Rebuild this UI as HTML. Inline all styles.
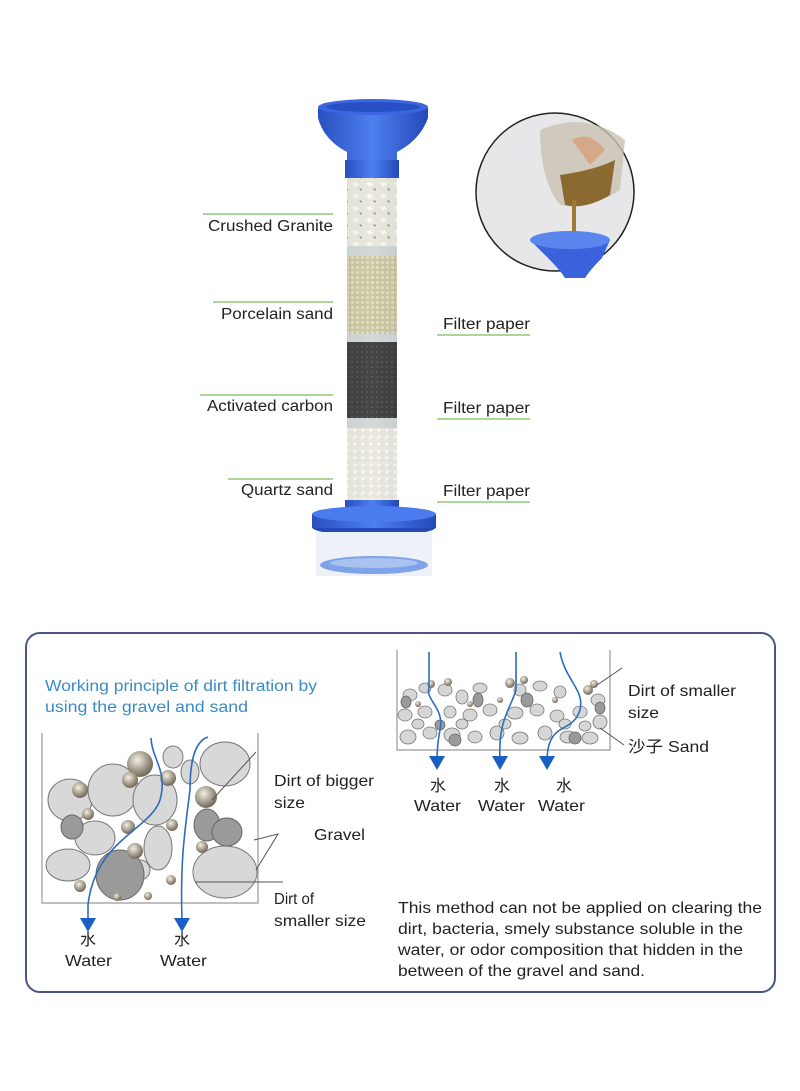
<!DOCTYPE html>
<html><head><meta charset="utf-8"><style>
html,body{margin:0;padding:0;background:#fff;}
svg{display:block;}
text{font-family:"Liberation Sans","Noto Sans CJK SC",sans-serif;}
</style></head><body>
<svg width="800" height="1091" viewBox="0 0 800 1091" xmlns="http://www.w3.org/2000/svg">
<defs>
<linearGradient id="tube" x1="0" x2="1"><stop offset="0" stop-color="#d8dcdc"/><stop offset=".5" stop-color="#f4f4f0"/><stop offset="1" stop-color="#cfd3d3"/></linearGradient>
<linearGradient id="blue" x1="0" x2="1"><stop offset="0" stop-color="#2a4fc0"/><stop offset=".5" stop-color="#4d7ff0"/><stop offset="1" stop-color="#2448b8"/></linearGradient>
<pattern id="gran" width="14" height="12" patternUnits="userSpaceOnUse"><rect width="14" height="12" fill="#e6e4d6"/><path d="M2 3l5-1 2 3-4 2z" fill="#fbfaf4"/><path d="M9 8l3 1-1 2z" fill="#6a6a58"/></pattern>
<pattern id="porc" width="5" height="5" patternUnits="userSpaceOnUse"><rect width="5" height="5" fill="#bfb88a"/><circle cx="2.5" cy="2.5" r="1.6" fill="#dcd6b0"/></pattern>
<pattern id="carb" width="5" height="5" patternUnits="userSpaceOnUse"><rect width="5" height="5" fill="#0c0c0c"/><circle cx="2" cy="2" r="1" fill="#2a2a2a"/></pattern>
<pattern id="quar" width="8" height="7" patternUnits="userSpaceOnUse"><rect width="8" height="7" fill="#e8e6dc"/><circle cx="3" cy="3" r="1.5" fill="#fff"/><circle cx="6" cy="5" r=".8" fill="#d9cfa8"/></pattern>
<radialGradient id="dirt" cx=".4" cy=".35" r=".6"><stop offset="0" stop-color="#f4f0e4"/><stop offset="1" stop-color="#7a7060"/></radialGradient>
</defs>

<path d="M318 108 Q372 96 428 108 L428 118 Q420 140 397 152 L397 168 L347 168 L347 152 Q324 140 318 118Z" fill="url(#blue)"/>
<ellipse cx="373" cy="107" rx="55" ry="8" fill="#3c66e0"/>
<ellipse cx="373" cy="107" rx="47" ry="5" fill="#2850c6"/>
<rect x="345" y="160" width="54" height="18" fill="url(#blue)"/>
<rect x="347" y="178" width="50" height="72" fill="url(#gran)"/>
<rect x="347" y="246" width="50" height="10" fill="#c8cfd0"/>
<rect x="347" y="256" width="50" height="80" fill="url(#porc)"/>
<rect x="347" y="334" width="50" height="8" fill="#c8cfd0"/>
<rect x="347" y="342" width="50" height="78" fill="url(#carb)"/>
<rect x="347" y="418" width="50" height="10" fill="#c8cfd0"/>
<rect x="347" y="428" width="50" height="82" fill="url(#quar)"/>
<rect x="347" y="178" width="50" height="332" fill="url(#tube)" opacity=".25"/>
<rect x="345" y="500" width="54" height="12" fill="url(#blue)"/>
<ellipse cx="374" cy="527" rx="62" ry="9" fill="#2448b8"/>
<rect x="312" y="514" width="124" height="14" fill="url(#blue)"/>
<ellipse cx="374" cy="514" rx="62" ry="8" fill="#4a7cf0"/>
<rect x="316" y="532" width="116" height="44" fill="#eef2f8"/>
<ellipse cx="374" cy="565" rx="54" ry="9" fill="#7fa3e8"/>
<ellipse cx="374" cy="563" rx="44" ry="5" fill="#a9c2f0"/>

<circle cx="555" cy="192" r="79" fill="#e7e7e9" stroke="#222" stroke-width="1.5"/>
<path d="M540 130 Q585 110 625 140 L620 190 Q590 210 560 205 Q540 180 540 130Z" fill="#c9c2b3" opacity=".8"/>
<path d="M560 175 Q595 170 615 160 L610 195 Q585 210 565 205Z" fill="#8a6a30"/>
<path d="M572 140 Q590 130 605 150 L590 165Z" fill="#d6a88a"/>
<rect x="572" y="200" width="4" height="45" fill="#a07a30"/>
<path d="M530 240 Q575 228 610 240 L602 258 Q590 270 585 278 L565 278 Q560 270 548 258Z" fill="#3a62dc"/>
<ellipse cx="570" cy="240" rx="40" ry="9" fill="#5b86ee"/>

<g fill="#222" font-size="15.5" lengthAdjust="spacingAndGlyphs">
<text x="208" y="231" textLength="125" lengthAdjust="spacingAndGlyphs">Crushed Granite</text>
<text x="221" y="319" textLength="112" lengthAdjust="spacingAndGlyphs">Porcelain sand</text>
<text x="207" y="411" textLength="126" lengthAdjust="spacingAndGlyphs">Activated carbon</text>
<text x="241" y="495" textLength="92" lengthAdjust="spacingAndGlyphs">Quartz sand</text>
<text x="443" y="329" textLength="87" lengthAdjust="spacingAndGlyphs">Filter paper</text>
<text x="443" y="413" textLength="87" lengthAdjust="spacingAndGlyphs">Filter paper</text>
<text x="443" y="496" textLength="87" lengthAdjust="spacingAndGlyphs">Filter paper</text>
</g>
<g stroke="#7cbf5a" stroke-width="1.2">
<line x1="203" y1="214" x2="333" y2="214"/>
<line x1="213" y1="302" x2="333" y2="302"/>
<line x1="200" y1="395" x2="333" y2="395"/>
<line x1="228" y1="479" x2="333" y2="479"/>
<line x1="437" y1="335" x2="530" y2="335"/>
<line x1="437" y1="419" x2="530" y2="419"/>
<line x1="437" y1="502" x2="530" y2="502"/>
</g>

<rect x="26" y="633" width="749" height="359" rx="14" fill="none" stroke="#4a5585" stroke-width="2"/>
<text x="45" y="691" font-size="16" fill="#3a8ac8" textLength="272" lengthAdjust="spacingAndGlyphs">Working principle of dirt filtration by</text>
<text x="45" y="712" font-size="16" fill="#3a8ac8" textLength="203" lengthAdjust="spacingAndGlyphs">using the gravel and sand</text>

<path d="M42 733 V903 H258 V733" fill="none" stroke="#999" stroke-width="1.2"/>
<g stroke="#777" stroke-width="1" fill="#d8d8d8">
<ellipse cx="70" cy="800" rx="22" ry="21"/>
<ellipse cx="113" cy="790" rx="25" ry="26" />
<ellipse cx="155" cy="800" rx="22" ry="25"/>
<ellipse cx="173" cy="757" rx="10" ry="11"/>
<ellipse cx="190" cy="772" rx="9" ry="12"/>
<ellipse cx="225" cy="764" rx="25" ry="22"/>
<ellipse cx="95" cy="838" rx="20" ry="17"/>
<ellipse cx="158" cy="848" rx="14" ry="22"/>
<ellipse cx="68" cy="865" rx="22" ry="16"/>
<ellipse cx="225" cy="872" rx="32" ry="26"/>
<ellipse cx="140" cy="870" rx="10" ry="10"/>
</g>
<g stroke="#666" stroke-width="1" fill="#9a9a9a">
<ellipse cx="72" cy="827" rx="11" ry="12"/>
<ellipse cx="120" cy="875" rx="24" ry="25"/>
<ellipse cx="207" cy="825" rx="13" ry="16"/>
<ellipse cx="227" cy="832" rx="15" ry="14"/>
</g>
<g fill="url(#dirt)">
<circle cx="140" cy="764" r="13"/><circle cx="130" cy="780" r="8"/><circle cx="168" cy="778" r="8"/>
<circle cx="80" cy="790" r="8"/><circle cx="88" cy="814" r="6"/><circle cx="206" cy="797" r="11"/>
<circle cx="128" cy="827" r="7"/><circle cx="172" cy="825" r="6"/><circle cx="135" cy="851" r="8"/>
<circle cx="202" cy="847" r="6"/><circle cx="80" cy="886" r="6"/><circle cx="171" cy="880" r="5"/><circle cx="117" cy="897" r="4"/><circle cx="148" cy="896" r="4"/>
</g>
<g fill="none" stroke="#2e6cc0" stroke-width="1.6">
<path d="M151 738 C152 760 168 770 160 800 C150 830 95 840 88 905 V920"/>
<path d="M208 737 C192 742 190 770 190 790 C185 830 180 860 182 920"/>
</g>
<g fill="#1a5fc4"><path d="M80 918 h16 l-8 14z"/><path d="M174 918 h16 l-8 14z"/></g>
<g stroke="#555" stroke-width="1" fill="none">
<line x1="212" y1="800" x2="256" y2="752"/>
<path d="M254 840 L278 834 L256 870"/>
<line x1="195" y1="882" x2="283" y2="882"/>
</g>
<g fill="#222" font-size="16">
<text x="274" y="786" textLength="100" lengthAdjust="spacingAndGlyphs">Dirt of bigger</text><text x="274" y="808" textLength="31" lengthAdjust="spacingAndGlyphs">size</text>
<text x="314" y="840" textLength="51" lengthAdjust="spacingAndGlyphs">Gravel</text>
<text x="274" y="904" textLength="40" lengthAdjust="spacingAndGlyphs">Dirt of</text><text x="274" y="926" textLength="92" lengthAdjust="spacingAndGlyphs">smaller size</text>
<text x="80" y="945">水</text><text x="65" y="966" textLength="47" lengthAdjust="spacingAndGlyphs">Water</text>
<text x="174" y="945">水</text><text x="160" y="966" textLength="47" lengthAdjust="spacingAndGlyphs">Water</text>
</g>

<path d="M397 650 V750 H610 V650" fill="none" stroke="#999" stroke-width="1.2"/>
<g stroke="#777" stroke-width=".8" fill="#d6d6d6">
<ellipse cx="410" cy="695" rx="7" ry="6"/><ellipse cx="425" cy="688" rx="6" ry="5"/><ellipse cx="445" cy="690" rx="7" ry="6"/>
<ellipse cx="462" cy="697" rx="6" ry="7"/><ellipse cx="480" cy="688" rx="7" ry="5"/><ellipse cx="520" cy="690" rx="6" ry="6"/>
<ellipse cx="540" cy="686" rx="7" ry="5"/><ellipse cx="560" cy="692" rx="6" ry="6"/><ellipse cx="598" cy="700" rx="7" ry="6"/>
<ellipse cx="405" cy="715" rx="7" ry="6"/><ellipse cx="425" cy="712" rx="7" ry="6"/><ellipse cx="450" cy="712" rx="6" ry="6"/>
<ellipse cx="470" cy="715" rx="7" ry="6"/><ellipse cx="490" cy="710" rx="7" ry="6"/><ellipse cx="515" cy="713" rx="8" ry="6"/>
<ellipse cx="537" cy="710" rx="7" ry="6"/><ellipse cx="557" cy="716" rx="7" ry="6"/><ellipse cx="580" cy="712" rx="7" ry="6"/>
<ellipse cx="600" cy="722" rx="7" ry="7"/><ellipse cx="408" cy="737" rx="8" ry="7"/><ellipse cx="430" cy="733" rx="7" ry="6"/>
<ellipse cx="452" cy="735" rx="8" ry="7"/><ellipse cx="475" cy="737" rx="7" ry="6"/><ellipse cx="497" cy="733" rx="7" ry="7"/>
<ellipse cx="520" cy="738" rx="8" ry="6"/><ellipse cx="545" cy="733" rx="7" ry="7"/><ellipse cx="568" cy="737" rx="8" ry="6"/>
<ellipse cx="590" cy="738" rx="8" ry="6"/><ellipse cx="585" cy="726" rx="6" ry="5"/>
<ellipse cx="418" cy="724" rx="6" ry="5"/><ellipse cx="505" cy="724" rx="6" ry="5"/><ellipse cx="565" cy="724" rx="6" ry="5"/><ellipse cx="462" cy="724" rx="6" ry="5"/>
</g>
<g stroke="#666" stroke-width=".8" fill="#9a9a9a">
<ellipse cx="406" cy="702" rx="5" ry="6"/><ellipse cx="478" cy="700" rx="5" ry="7"/><ellipse cx="527" cy="700" rx="6" ry="7"/>
<ellipse cx="455" cy="740" rx="6" ry="6"/><ellipse cx="575" cy="738" rx="6" ry="6"/><ellipse cx="600" cy="708" rx="5" ry="6"/><ellipse cx="440" cy="725" rx="5" ry="5"/>
</g>
<g fill="url(#dirt)">
<circle cx="431" cy="684" r="4"/><circle cx="448" cy="682" r="4"/><circle cx="510" cy="683" r="5"/><circle cx="524" cy="680" r="4"/>
<circle cx="588" cy="690" r="5"/><circle cx="594" cy="684" r="4"/><circle cx="418" cy="704" r="3"/><circle cx="470" cy="704" r="3"/><circle cx="500" cy="700" r="3"/><circle cx="555" cy="700" r="3"/>
</g>
<g fill="none" stroke="#2e6cc0" stroke-width="1.6">
<path d="M429 652 V688 C425 700 445 708 440 730 C438 740 437 750 437 760"/>
<path d="M516 652 V690 C510 710 498 720 500 760"/>
<path d="M560 652 C565 680 585 690 580 710 C572 735 548 720 547 760"/>
</g>
<g fill="#1a5fc4"><path d="M429 756 h16 l-8 14z"/><path d="M492 756 h16 l-8 14z"/><path d="M539 756 h16 l-8 14z"/></g>
<g stroke="#555" stroke-width="1" fill="none">
<line x1="597" y1="685" x2="622" y2="668"/>
<line x1="600" y1="728" x2="624" y2="745"/>
</g>
<g fill="#222" font-size="16">
<text x="628" y="696" textLength="108" lengthAdjust="spacingAndGlyphs">Dirt of smaller</text><text x="628" y="718" textLength="31" lengthAdjust="spacingAndGlyphs">size</text>
<text x="628" y="752" textLength="81" lengthAdjust="spacingAndGlyphs">沙子 Sand</text>
<text x="430" y="791">水</text><text x="414" y="811" textLength="47" lengthAdjust="spacingAndGlyphs">Water</text>
<text x="494" y="791">水</text><text x="478" y="811" textLength="47" lengthAdjust="spacingAndGlyphs">Water</text>
<text x="556" y="791">水</text><text x="538" y="811" textLength="47" lengthAdjust="spacingAndGlyphs">Water</text>
<text x="398" y="913" textLength="364" lengthAdjust="spacingAndGlyphs">This method can not be applied on clearing the</text>
<text x="398" y="934" textLength="345" lengthAdjust="spacingAndGlyphs">dirt, bacteria, smely substance soluble in the</text>
<text x="398" y="955" textLength="345" lengthAdjust="spacingAndGlyphs">water, or odor composition that hidden in the</text>
<text x="398" y="976" textLength="247" lengthAdjust="spacingAndGlyphs">between of the gravel and sand.</text>
</g>
</svg>
</body></html>
